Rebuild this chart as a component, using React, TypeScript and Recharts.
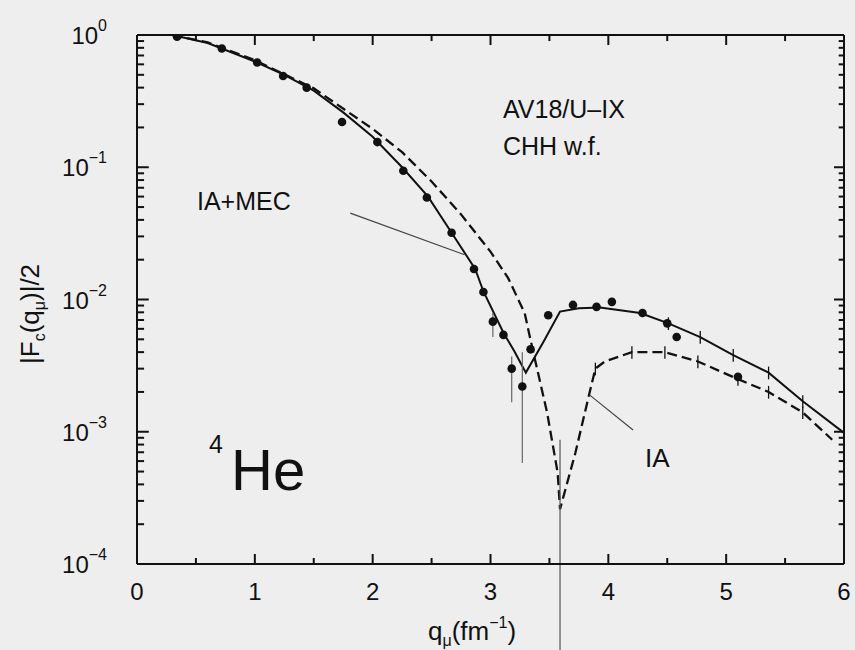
import React from 'react';
import {
  ComposedChart,
  Line,
  XAxis,
  YAxis,
  Scatter,
  ErrorBar,
  ReferenceLine,
  Customized,
} from 'recharts';

// ---------- axis ticks ----------
const qMajor = [0, 1, 2, 3, 4, 5, 6];
const qMinor = [0.5, 1.5, 2.5, 3.5, 4.5, 5.5];
const qTicks = [...qMajor, ...qMinor].sort((a, b) => a - b);
const decades = [1e-4, 1e-3, 1e-2, 1e-1, 1];
const minorMultipliers = [2, 3, 4, 5, 6, 7, 8, 9];
const yMinor = decades.slice(0, 4).flatMap((d) => minorMultipliers.map((m) => m * d));

// ---------- IA+MEC (solid) ----------
const iaMecQ = [0.3, 0.6, 1.0, 1.25, 1.5, 1.75, 2.0, 2.25, 2.47, 2.67, 2.87, 2.94, 3.11, 3.2, 3.3, 3.45, 3.59, 3.75, 3.93, 4.27, 4.51, 4.78, 5.06, 5.36, 5.65, 6.0];
const iaMecF = [1.0, 0.87, 0.63, 0.5, 0.38, 0.26, 0.17, 0.1, 0.06, 0.032, 0.017, 0.0115, 0.0056, 0.0041, 0.0028, 0.0048, 0.0081, 0.0086, 0.0087, 0.0079, 0.0066, 0.0052, 0.0038, 0.0028, 0.0017, 0.00098];

// ---------- IA (dashed) ----------
const iaQ = [0.3, 0.6, 1.0, 1.5, 2.0, 2.25, 2.5, 2.75, 3.0, 3.15, 3.29, 3.35, 3.48, 3.57, 3.59, 3.72, 3.83, 3.89, 3.97, 4.2, 4.48, 4.76, 5.1, 5.36, 5.65, 5.9];
const iaF = [1.0, 0.88, 0.645, 0.395, 0.195, 0.13, 0.078, 0.044, 0.023, 0.0145, 0.0079, 0.0045, 0.0014, 0.00049, 0.00026, 0.00069, 0.0018, 0.003, 0.0034, 0.004, 0.004, 0.0034, 0.0025, 0.002, 0.0014, 0.00087];

// ---------- theory MC uncertainty ticks ----------
const iaMecTickQ = [4.51, 4.78, 5.06, 5.36, 5.65];
const iaMecTickF = [0.0066, 0.0052, 0.0038, 0.0028, 0.0017];
const iaTickQ = [3.89, 4.2, 4.48, 4.76, 5.1, 5.36, 5.65];
const iaTickF = [0.003, 0.004, 0.004, 0.0034, 0.0025, 0.002, 0.0014];

// ---------- experimental data ----------
const expQ = [0.34, 0.72, 1.02, 1.24, 1.44, 1.74, 2.04, 2.26, 2.46, 2.67, 2.86, 2.94, 3.02, 3.11, 3.18, 3.27, 3.34, 3.49, 3.7, 3.9, 4.03, 4.29, 4.5, 4.58, 5.1];
const expF = [0.97, 0.79, 0.62, 0.49, 0.4, 0.22, 0.155, 0.094, 0.059, 0.032, 0.017, 0.0114, 0.0068, 0.0054, 0.003, 0.0022, 0.0042, 0.0076, 0.0091, 0.0088, 0.0096, 0.0079, 0.0066, 0.0052, 0.0026];
const expErrLow = [0, 0, 0, 0, 0, 0, 0, 0, 0, 0, 0, 0, 0.0016, 0, 0.00133, 0.00162, 0, 0, 0, 0, 0, 0, 0, 0, 0];
const expErrHigh = [0, 0, 0, 0, 0, 0, 0, 0, 0, 0, 0, 0, 0.0011, 0, 0.0007, 0.0018, 0, 0, 0, 0, 0, 0, 0, 0, 0];

const solidData = iaMecQ.map((q, i) => ({ q, f: iaMecF[i] }));
const dashedData = iaQ.map((q, i) => ({ q, f: iaF[i] }));
const solidTicks = iaMecTickQ.map((q, i) => ({ q, f: iaMecTickF[i], err: iaMecTickF[i] * 0.11 }));
const dashedTicks = iaTickQ.map((q, i) => ({ q, f: iaTickF[i], err: iaTickF[i] * 0.11 }));
const expData = expQ.map((q, i) => ({ q, f: expF[i], err: [expErrLow[i], expErrHigh[i]] }));

// inward frame tick marks, drawn as one-sided error bars from the frame
const frameTicks = [
  ...qMajor.map((q) => ({ q, f: 1e-4, e: [0, 1.9e-5] })),
  ...qMinor.map((q) => ({ q, f: 1e-4, e: [0, 1.1e-5] })),
  ...qMajor.map((q) => ({ q, f: 1, e: [0.16, 0] })),
  ...qMinor.map((q) => ({ q, f: 1, e: [0.1, 0] })),
];
const sideTicks = [
  ...decades.map((f) => ({ q: 0, f, e: [0, 0.1] })),
  ...yMinor.map((f) => ({ q: 0, f, e: [0, 0.06] })),
  ...decades.map((f) => ({ q: 6, f, e: [0.085, 0] })),
  ...yMinor.map((f) => ({ q: 6, f, e: [0.045, 0] })),
];

const FONT = '"Liberation Sans", Arial, Helvetica, sans-serif';
const INK = '#111';

const BottomTick = (props: any) => {
  const { x, y, payload } = props;
  return (
    <text x={x} y={y + 36} textAnchor="middle" fontSize={24} fill={INK} fontFamily={FONT}>
      {payload.value}
    </text>
  );
};

const LeftTick = (props: any) => {
  const { x, y, payload } = props;
  const e = Math.round(Math.log10(payload.value));
  return (
    <text x={x - 30} y={y + 9} textAnchor="end" fontSize={24} fill={INK} fontFamily={FONT}>
      <tspan>10</tspan>
      <tspan fontSize={16} dy={-13}>
        {e === 0 ? '0' : '\u2212' + Math.abs(e)}
      </tspan>
    </text>
  );
};

const NoTick = () => <g />;

const Annotations = () => (
  <g fontFamily={FONT} fill={INK}>
    <text x={197} y={210} fontSize={25}>IA+MEC</text>
    <text x={503} y={118} fontSize={25}>AV18/U–IX</text>
    <text x={503} y={155} fontSize={25}>CHH w.f.</text>
    <text x={645} y={467} fontSize={26}>IA</text>
    <text x={209} y={453} fontSize={25}>4</text>
    <text x={231} y={490} fontSize={58}>He</text>
    {/* x-axis title */}
    <text x={428} y={640} fontSize={26}>
      <tspan>q</tspan>
      <tspan fontSize={16} dy={6}>μ</tspan>
      <tspan dy={-6}>(fm</tspan>
      <tspan fontSize={16} dy={-12}>{'\u22121'}</tspan>
      <tspan dy={12}>)</tspan>
    </text>
    {/* y-axis title */}
    <text transform="translate(39, 364) rotate(-90)" fontSize={26}>
      <tspan>|F</tspan>
      <tspan fontSize={16} dy={6}>c</tspan>
      <tspan dy={-6}>(q</tspan>
      <tspan fontSize={16} dy={6}>μ</tspan>
      <tspan dy={-6}>)|/2</tspan>
    </text>
  </g>
);

export default function App() {
  return (
    <div style={{ position: 'absolute', left: 0, top: 0, width: 855, height: 650, background: '#eeeeee' }}>
      <ComposedChart width={855} height={650} margin={{ top: 34, right: 10, left: 0, bottom: 0 }}>
        <XAxis
          xAxisId="b"
          dataKey="q"
          type="number"
          domain={[0, 6]}
          ticks={qMajor}
          interval={0}
          height={86}
          tickSize={0}
          tickMargin={0}
          tickLine={false}
          axisLine={{ stroke: INK, strokeWidth: 2 }}
          tick={<BottomTick />}
        />
        <XAxis
          xAxisId="t"
          orientation="top"
          dataKey="q"
          type="number"
          domain={[0, 6]}
          ticks={qTicks}
          interval={0}
          height={1}
          tickSize={0}
          tickMargin={0}
          tickLine={false}
          axisLine={{ stroke: INK, strokeWidth: 2 }}
          tick={<NoTick />}
        />
        <YAxis
          yAxisId="l"
          type="number"
          scale="log"
          domain={[1e-4, 1]}
          ticks={decades}
          interval={0}
          allowDataOverflow
          width={137}
          tickSize={0}
          tickMargin={0}
          tickLine={false}
          axisLine={{ stroke: INK, strokeWidth: 2 }}
          tick={<LeftTick />}
        />
        <YAxis
          yAxisId="r"
          orientation="right"
          type="number"
          scale="log"
          domain={[1e-4, 1]}
          ticks={decades}
          interval={0}
          allowDataOverflow
          width={1}
          tickSize={0}
          tickMargin={0}
          tickLine={false}
          axisLine={{ stroke: INK, strokeWidth: 2 }}
          tick={<NoTick />}
        />

        {/* frame tick marks */}
        <Scatter xAxisId="b" yAxisId="l" data={frameTicks} dataKey="f" shape={() => <g />} isAnimationActive={false}>
          <ErrorBar dataKey="e" direction="y" width={0} stroke={INK} strokeWidth={2} isAnimationActive={false} />
        </Scatter>
        <Scatter xAxisId="b" yAxisId="l" data={sideTicks} dataKey="f" shape={() => <g />} isAnimationActive={false}>
          <ErrorBar dataKey="e" direction="x" width={0} stroke={INK} strokeWidth={2} isAnimationActive={false} />
        </Scatter>

        <Line
          xAxisId="b"
          yAxisId="l"
          data={solidData}
          dataKey="f"
          type="linear"
          stroke={INK}
          strokeWidth={2}
          dot={false}
          isAnimationActive={false}
        />
        <Line
          xAxisId="b"
          yAxisId="l"
          data={dashedData}
          dataKey="f"
          type="linear"
          stroke={INK}
          strokeWidth={2.3}
          strokeDasharray="10 5"
          dot={false}
          isAnimationActive={false}
        />
        <Scatter xAxisId="b" yAxisId="l" data={solidTicks} dataKey="f" shape={() => <g />} isAnimationActive={false}>
          <ErrorBar dataKey="err" direction="y" width={0} stroke={INK} strokeWidth={1.3} isAnimationActive={false} />
        </Scatter>
        <Scatter xAxisId="b" yAxisId="l" data={dashedTicks} dataKey="f" shape={() => <g />} isAnimationActive={false}>
          <ErrorBar dataKey="err" direction="y" width={0} stroke={INK} strokeWidth={1.3} isAnimationActive={false} />
        </Scatter>
        <Scatter
          xAxisId="b"
          yAxisId="l"
          data={expData}
          dataKey="f"
          shape={(p: any) => <circle cx={p.cx} cy={p.cy} r={4.3} fill={INK} />}
          isAnimationActive={false}
        >
          <ErrorBar dataKey="err" direction="y" width={0} stroke="#666" strokeWidth={1.2} isAnimationActive={false} />
        </Scatter>

        <ReferenceLine
          xAxisId="b"
          yAxisId="l"
          segment={[{ x: 1.81, y: 0.045 }, { x: 2.78, y: 0.0218 }]}
          stroke="#444"
          strokeWidth={1.2}
          ifOverflow="visible"
        />
        <ReferenceLine
          xAxisId="b"
          yAxisId="l"
          segment={[{ x: 3.84, y: 0.0019 }, { x: 4.21, y: 0.00103 }]}
          stroke="#444"
          strokeWidth={1.2}
          ifOverflow="visible"
        />
        <ReferenceLine
          xAxisId="b"
          yAxisId="l"
          segment={[{ x: 3.59, y: 0.00087 }, { x: 3.59, y: 0.00001 }]}
          stroke="#555"
          strokeWidth={1.2}
          ifOverflow="visible"
        />
        <Customized component={Annotations} />
      </ComposedChart>
    </div>
  );
}
